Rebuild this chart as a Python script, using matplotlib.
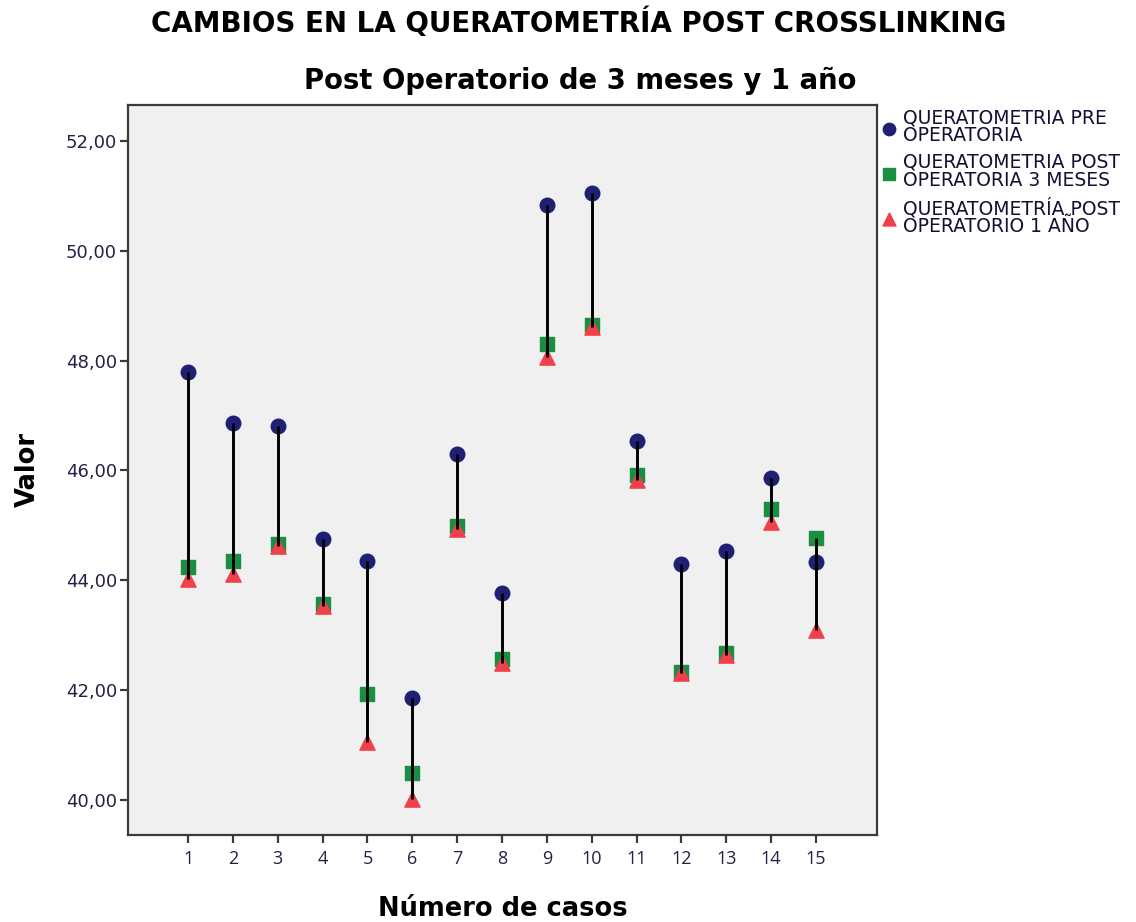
import matplotlib
matplotlib.use("Agg")
import matplotlib.pyplot as plt
import numpy as np
from matplotlib.ticker import FuncFormatter

# valores
casos = [1, 2, 3, 4, 5, 6, 7, 8, 9, 10, 11, 12, 13, 14, 15]
pre_op = [47.80, 46.87, 46.81, 44.75, 44.35, 41.86, 46.30, 43.76, 50.84, 51.06, 46.54, 44.29, 44.54, 45.86, 44.34]
post_3m = [44.24, 44.36, 44.66, 43.56, 41.93, 40.50, 44.99, 42.57, 48.31, 48.65, 45.92, 42.33, 42.67, 45.30, 44.77]
post_1a = [44.03, 44.12, 44.63, 43.54, 41.06, 40.02, 44.94, 42.50, 48.06, 48.62, 45.83, 42.31, 42.64, 45.07, 43.10]

labels = ["QUERATOMETRIA PRE\nOPERATORIA",
          "QUERATOMETRIA POST\nOPERATORIA 3 MESES",
          "QUERATOMETRÍA POST\nOPERATORIO 1 AÑO"]

c_pre = "#1f1f73"
c_3m = "#1a8f42"
c_1a = "#f0404c"

fig = plt.figure(figsize=(11.36, 9.22), dpi=100)
ax = fig.add_axes([0.1127, 0.0944, 0.772 - 0.1127, 0.8861 - 0.0944])
ax.set_facecolor("#f0f0f0")

vals = np.array([pre_op, post_3m, post_1a])
lo = vals.min(axis=0)
hi = vals.max(axis=0)

s1 = ax.scatter(casos, pre_op, s=110, marker="o", color=c_pre, zorder=3, label=labels[0])
s2 = ax.scatter(casos, post_3m, s=110, marker="s", color=c_3m, zorder=3, label=labels[1])
s3 = ax.scatter(casos, post_1a, s=120, marker="^", color=c_1a, zorder=3, label=labels[2])
ax.vlines(casos, lo, hi, color="black", lw=2.1, zorder=4)

ax.set_xlim(-0.338, 16.36)
ax.set_ylim(39.363, 52.655)
ax.set_xticks(casos)
ax.set_yticks([40, 42, 44, 46, 48, 50, 52])
ax.yaxis.set_major_formatter(FuncFormatter(lambda v, p: f"{v:.2f}".replace(".", ",")))

for sp in ax.spines.values():
    sp.set_color("#3a3a3a")
    sp.set_linewidth(1.6)
ax.tick_params(axis="both", direction="out", length=6, width=1.6, color="#3a3a3a")
ax.tick_params(axis="y", labelsize=13, labelcolor="#222244", pad=2)
ax.tick_params(axis="x", labelsize=13, labelcolor="#222244", pad=5)
for t in ax.get_xticklabels():
    t.set_family("Open Sans")

ax.set_xlabel("Número de casos", fontsize=18.5, fontweight="bold", labelpad=20)
ax.set_ylabel("Valor", fontsize=18.5, fontweight="bold", labelpad=18)

fig.text(0.509, 0.975, "CAMBIOS EN LA QUERATOMETRÍA POST CROSSLINKING", ha="center", va="center",
         fontsize=20, fontweight="bold")
fig.text(0.511, 0.912, "Post Operatorio de 3 meses y 1 año", ha="center", va="center",
         fontsize=19.8, fontweight="bold")

leg = fig.legend(handles=[s1, s2, s3], loc="upper left", bbox_to_anchor=(0.769, 0.893),
                 frameon=False, fontsize=13.5, handlelength=0.6, handletextpad=0.45,
                 borderpad=0, labelspacing=0.4, markerscale=0.85)
for t in leg.get_texts():
    t.set_linespacing(0.95)
    t.set_color("#111133")

fig.savefig("out.png", dpi=100)
